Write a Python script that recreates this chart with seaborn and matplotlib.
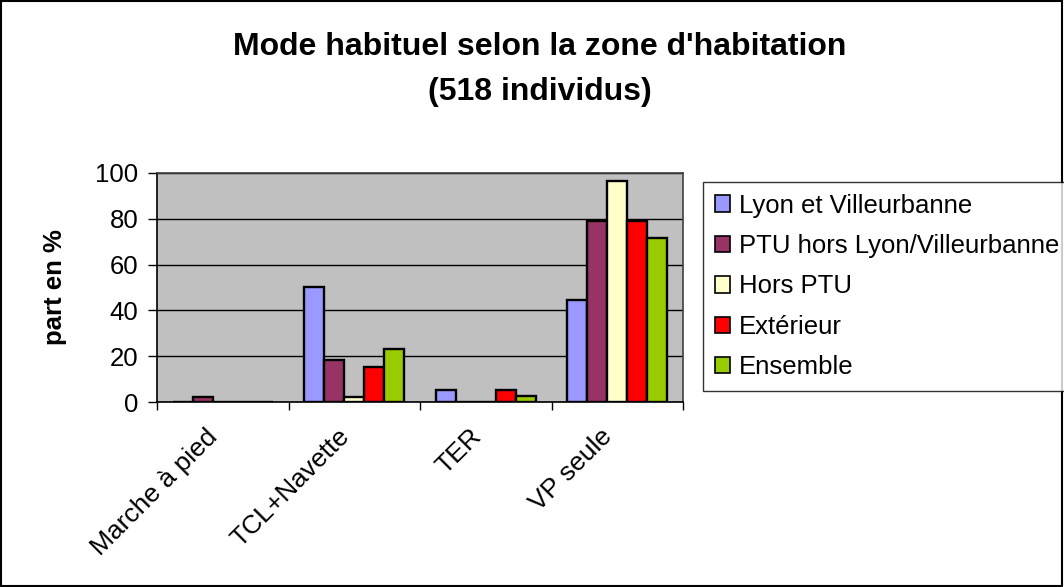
import matplotlib
matplotlib.use("Agg")
import matplotlib.pyplot as plt
import matplotlib.transforms as mtransforms
import seaborn as sns
import pandas as pd
import numpy as np
from matplotlib.patches import Rectangle

categories = ["Marche à pied", "TCL+Navette", "TER", "VP seule"]
series = ["Lyon et Villeurbanne", "PTU hors Lyon/Villeurbanne", "Hors PTU", "Extérieur", "Ensemble"]
lyon = [0, 50.3, 5.2, 44.4]
ptu = [2.4, 18.6, 0, 79.1]
hors_ptu = [0, 2.4, 0, 96.5]
exterieur = [0, 15.5, 5.2, 79.1]
ensemble = [0, 23.3, 2.6, 71.6]
colors = ["#9999FF", "#993366", "#FFFFCC", "#FF0000", "#99CC00"]

values = [lyon, ptu, hors_ptu, exterieur, ensemble]
rows = []
for s, vals in zip(series, values):
    for c, v in zip(categories, vals):
        rows.append({"mode": c, "zone": s, "part": v})
df = pd.DataFrame(rows)

sns.set_theme(style="white")
plt.rcParams["font.family"] = ["Liberation Sans", "DejaVu Sans"]
plt.rcParams["text.color"] = "black"
plt.rcParams["axes.labelcolor"] = "black"
plt.rcParams["xtick.color"] = "black"
plt.rcParams["ytick.color"] = "black"

fig = plt.figure(figsize=(10.64, 5.87), dpi=100)
fig.patch.set_facecolor("white")
ax = fig.add_axes([157/1064, 1-402.3/587, (683-157)/1064, (402.3-172.7)/587])
ax.set_facecolor("#C0C0C0")

sns.barplot(data=df, x="mode", y="part", hue="zone", order=categories,
            hue_order=series, palette=colors, saturation=1, edgecolor="black", linewidth=1.7,
            width=0.76, ax=ax, legend=True, zorder=3)

ax.set_ylim(0, 100)
ax.set_xlim(-0.5, 3.5)
ax.set_yticks([0, 20, 40, 60, 80, 100])
ax.yaxis.grid(True, color="black", linewidth=1, zorder=0)
ax.set_axisbelow(True)
ax.tick_params(axis="y", labelsize=18.5, left=True, length=6.5, width=1, direction="out", color="black", pad=7)
ax.set_xticks(range(len(categories)))
ax.set_xticklabels(categories, rotation=45, ha="right", rotation_mode="anchor", fontsize=19)
ax.tick_params(axis="x", which="major", length=0, pad=16)
ax.set_xticks(np.arange(-0.5, 4.0, 1.0), minor=True)
ax.tick_params(axis="x", which="minor", bottom=True, length=6, width=1, color="black", direction="out")
shift = mtransforms.ScaledTranslation(-17/100, 0, fig.dpi_scale_trans)
for lab in ax.get_xticklabels():
    lab.set_transform(lab.get_transform() + shift)
ax.set_xlabel("")
ax.set_ylabel("part en %", fontsize=18.5, fontweight="bold", labelpad=20)
for side in ["left", "bottom"]:
    ax.spines[side].set_color("black")
    ax.spines[side].set_linewidth(1.2)
for side in ["top", "right"]:
    ax.spines[side].set_color("#404040")
    ax.spines[side].set_linewidth(1.2)

handles, labels = ax.get_legend_handles_labels()
ax.get_legend().remove()
leg = fig.legend(handles, labels, loc="upper left", bbox_to_anchor=(703/1064, 1-182/587),
                 fontsize=18.5, frameon=True, fancybox=False, edgecolor="black",
                 handlelength=0.6, handleheight=0.6, handletextpad=0.35,
                 labelspacing=0.64, borderpad=0.45, borderaxespad=0)
leg.get_frame().set_linewidth(1)
for h in leg.legend_handles:
    h.set_edgecolor("black")
    h.set_linewidth(1.2)

fig.text(540/1064, 1-47/587, "Mode habituel selon la zone d'habitation", ha="center", va="center",
         fontsize=23, fontweight="bold")
fig.text(540/1064, 1-92/587, "(518 individus)", ha="center", va="center",
         fontsize=23, fontweight="bold")

fig.patches.append(Rectangle((0.001, 0.002), 0.997, 0.996, transform=fig.transFigure,
                             fill=False, edgecolor="black", linewidth=1.5))

fig.savefig("out.png", dpi=100)
